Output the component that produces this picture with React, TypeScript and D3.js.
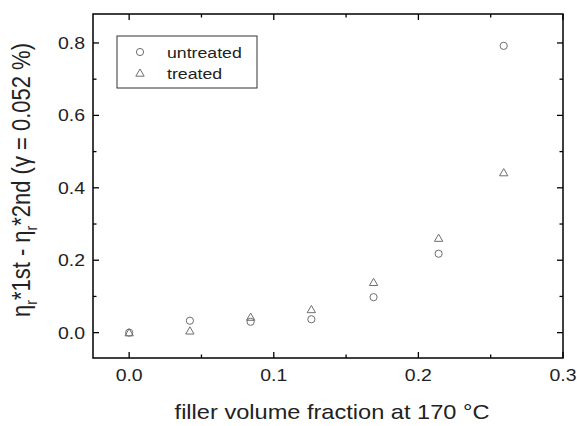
import React from 'react'
import * as d3 from 'd3'

// filler volume fraction
const fractions = [0, 0.042, 0.084, 0.126, 0.169, 0.214, 0.259]
const untreated = [0.0, 0.033, 0.03, 0.037, 0.098, 0.218, 0.792]
const treated = [0.0, 0.005, 0.043, 0.064, 0.139, 0.261, 0.442]
const xTicks = [0, 0.1, 0.2, 0.3]
const yTicks = [0, 0.2, 0.4, 0.6, 0.8]
const xMinor = [0.05, 0.15, 0.25]
const yMinor = [0.1, 0.3, 0.5, 0.7]

const W = 577
const H = 426
const m = { left: 93, right: 563, top: 14, bottom: 358 }
const FONT = 'Liberation Sans, Arial, sans-serif'
const GREY = '#6e6e6e'
const INK = '#222'
const SX = 1.18 // the picture's text is a bit wide

const x = d3.scaleLinear().domain([-0.025, 0.3]).range([m.left, m.right])
const y = d3.scaleLinear().domain([-0.07, 0.88]).range([m.bottom, m.top])

const tri = d3.symbol().type(d3.symbolTriangle).size(30)

const Circle = ({ cx, cy }: { cx: number; cy: number }) => (
  <circle cx={cx} cy={cy} r={3.6} fill="none" stroke={GREY} strokeWidth={1} />
)
const Tri = ({ cx, cy }: { cx: number; cy: number }) => (
  <path d={tri() as string} transform={`translate(${cx},${cy + 0.8})`} fill="none" stroke={GREY} strokeWidth={1} />
)

// text drawn at (tx,ty) then widened
const Label = ({ tx, ty, size, anchor, children }: any) => (
  <g transform={`translate(${tx},${ty}) scale(${SX},1)`}>
    <text x={0} y={0} textAnchor={anchor || 'start'} fontSize={size} fill={INK}>{children}</text>
  </g>
)

export default function App() {
  const major = 6
  const minor = 3.5
  const fmt = d3.format('.1f')
  return (
    <svg width={W} height={H} style={{ position: 'absolute', left: 0, top: 0, background: '#fff' }} fontFamily={FONT}>
      {/* ticks, all pointing inward */}
      {xTicks.map(t => (
        <g key={'xt' + t}>
          <line x1={x(t)} x2={x(t)} y1={m.bottom} y2={m.bottom - major} stroke="#000" strokeWidth={1.3} />
          <line x1={x(t)} x2={x(t)} y1={m.top} y2={m.top + major} stroke="#000" strokeWidth={1.3} />
          <Label tx={x(t)} ty={381} size={16.5} anchor="middle">{fmt(t)}</Label>
        </g>
      ))}
      {xMinor.map(t => (
        <g key={'xm' + t}>
          <line x1={x(t)} x2={x(t)} y1={m.bottom} y2={m.bottom - minor} stroke="#000" strokeWidth={1.3} />
          <line x1={x(t)} x2={x(t)} y1={m.top} y2={m.top + minor} stroke="#000" strokeWidth={1.3} />
        </g>
      ))}
      {yTicks.map(t => (
        <g key={'yt' + t}>
          <line x1={m.left} x2={m.left + major} y1={y(t)} y2={y(t)} stroke="#000" strokeWidth={1.3} />
          <line x1={m.right} x2={m.right - major} y1={y(t)} y2={y(t)} stroke="#000" strokeWidth={1.3} />
          <Label tx={m.left - 8} ty={y(t) + 6} size={16.5} anchor="end">{fmt(t)}</Label>
        </g>
      ))}
      {yMinor.map(t => (
        <g key={'ym' + t}>
          <line x1={m.left} x2={m.left + minor} y1={y(t)} y2={y(t)} stroke="#000" strokeWidth={1.3} />
          <line x1={m.right} x2={m.right - minor} y1={y(t)} y2={y(t)} stroke="#000" strokeWidth={1.3} />
        </g>
      ))}
      <rect x={m.left} y={m.top} width={m.right - m.left} height={m.bottom - m.top} fill="none" stroke="#000" strokeWidth={1.5} />

      {fractions.map((f, i) => (
        <g key={'p' + i}>
          <Circle cx={x(f)} cy={y(untreated[i])} />
          <Tri cx={x(f)} cy={y(treated[i])} />
        </g>
      ))}

      {/* legend */}
      <rect x={117} y={36} width={140} height={52} fill="#fff" stroke="#333" strokeWidth={1} />
      <Circle cx={140} cy={52} />
      <Label tx={167} ty={57.5} size={15}>untreated</Label>
      <Tri cx={140} cy={73} />
      <Label tx={167} ty={79} size={15}>treated</Label>

      {/* axis titles */}
      <Label tx={332} ty={419} size={20} anchor="middle">filler volume fraction at 170 °C</Label>
      <g transform={`translate(30,180) scale(${SX},1) rotate(-90)`}>
        <text x={0} y={0} textAnchor="middle" fontSize={22} fill={INK}>
          η<tspan dy={6} fontSize={14}>r</tspan><tspan dy={-6}>*1st - η</tspan><tspan dy={6} fontSize={14}>r</tspan>
          <tspan dy={-6}>*2nd (γ = 0.052 %)</tspan>
        </text>
      </g>
    </svg>
  )
}
